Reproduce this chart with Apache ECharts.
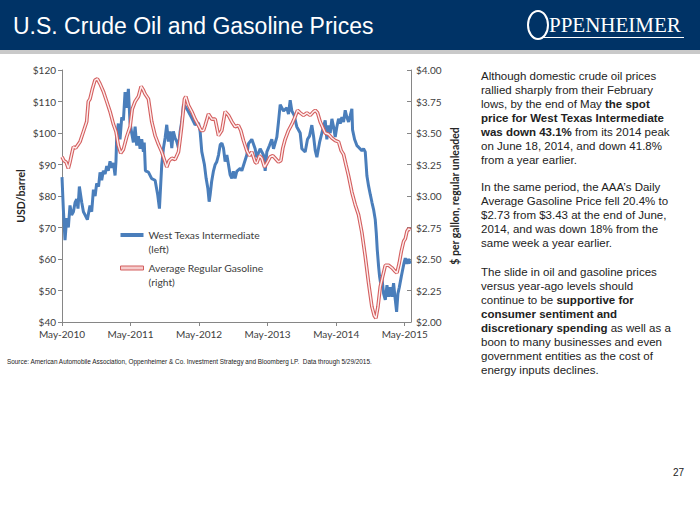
<!DOCTYPE html>
<html>
<head>
<meta charset="utf-8">
<script src="https://cdn.jsdelivr.net/npm/echarts@6/dist/echarts.min.js"></script>
<style>
html,body{margin:0;padding:0;background:#fff;}
#chart{width:700px;height:525px;}
</style>
</head>
<body>
<div id="chart"></div>
<script>
// x values are months elapsed since May-2010
const xTickLabels = ['May-2010','May-2011','May-2012','May-2013','May-2014','May-2015'];

const wtiMonths = [0.00,0.23,0.53,0.82,1.11,1.40,1.69,2.00,2.30,2.57,2.80,3.04,3.45,3.75,4.03,4.44,4.90,5.20,5.50,5.80,6.07,6.40,6.66,6.95,7.24,7.55,7.83,8.10,8.41,8.70,9.00,9.29,9.45,9.58,9.87,10.16,10.46,10.75,11.04,11.30,11.62,11.90,12.20,12.50,12.80,13.08,13.38,13.67,13.96,14.25,14.40,14.60,15.13,15.70,16.30,16.76,17.06,17.46,17.76,18.05,18.34,18.63,18.93,19.22,19.50,19.80,20.10,20.40,20.68,20.97,21.26,21.55,22.10,22.70,23.30,23.90,24.18,24.47,24.94,25.23,25.53,25.76,25.93,26.20,26.50,26.80,27.10,27.40,27.70,28.00,28.27,28.56,28.86,29.15,29.44,29.73,30.00,30.30,30.60,31.20,31.48,32.35,32.65,33.23,33.81,34.10,34.69,35.27,35.57,35.86,36.32,36.73,37.03,37.61,37.90,38.20,38.78,39.36,39.65,39.95,40.24,40.65,41.10,41.70,41.99,42.57,42.98,43.33,43.74,44.04,44.33,44.62,45.09,45.50,46.08,46.37,46.66,46.96,47.25,47.54,47.83,48.12,48.42,48.71,49.00,49.29,49.58,49.88,50.17,50.46,50.75,50.87,51.22,51.63,51.92,52.50,52.80,53.09,53.26,53.38,53.67,53.97,54.26,54.55,54.84,55.02,55.19,55.43,55.60,55.78,56.01,56.30,56.60,56.89,57.18,57.47,57.76,58.05,58.35,58.58,58.81,59.05,59.40,59.63,59.87,60.10,60.39,60.68,60.97];
const wtiPrice = [86,76,66,73,70,77,74,75,78,79,76,83,78,75,74,72.5,77,75,82,80,84,83,87.5,85,88,87,89.5,88,91,89,90.5,86.5,91,99,103,98,105,104,113,108,114,103.5,100,97,102,96,99,95,98,94,97,88,87.6,85.5,85,80.3,76,89.9,95.2,98.4,102.6,97.3,100.5,95.2,100.5,98.4,97.3,95.2,100.5,103.7,109,108.5,106.9,104.8,102.6,103.2,100.5,94.1,89.9,85.6,82.5,78.2,80.3,84.6,87.8,89.9,90.9,93,96.3,96.8,95.2,90.9,93,89.9,86.7,85.6,87.8,85.6,87.8,88.8,88,93,96.6,98,95,92.3,95,93,88,94,96,98,95,98.7,103.5,109,107,108,106,110.4,107,105.6,102,100,95,94,98,99,102.5,99,94.5,92.3,97,100,104,98,102.4,100,104.5,102,98.7,102,104.5,103,105,103.5,107.2,105,103.5,105.5,107.7,101,98,96,95.5,94.4,95,94,89.6,86.4,83.2,80.5,78,75.7,72.5,68.3,63,57.6,54.4,52.3,54,49,47,51.7,48,51,48,52.3,47,43.2,49,51,54.4,56.5,58.7,60.3,58.5,60,58.5];

const gasMonths = [0.00,0.35,0.70,1.11,1.40,1.69,1.99,2.40,2.69,3.15,3.74,4.32,4.61,4.90,5.32,5.78,6.19,6.66,7.24,7.83,8.41,9.00,9.46,9.87,10.28,10.75,11.33,11.92,12.30,12.80,13.38,13.85,14.25,14.54,15.13,15.71,16.30,16.88,17.46,18.05,18.34,18.75,19.22,19.80,20.39,20.68,20.97,21.44,21.67,22.14,22.72,23.30,23.89,24.36,24.77,25.06,25.64,26.23,26.81,27.40,27.98,28.56,29.15,29.73,30.30,30.89,31.30,31.77,32.35,32.82,33.23,33.81,34.10,34.57,34.98,35.45,35.86,36.44,36.91,37.32,37.90,38.31,38.66,39.07,39.65,40.24,40.82,41.23,41.70,42.28,42.87,43.45,44.04,44.33,44.74,45.20,45.79,46.08,46.66,47.25,47.83,48.42,48.88,49.29,49.70,50.17,50.75,51.34,51.92,52.50,53.09,53.67,54.26,54.67,54.96,55.31,55.72,56.13,56.60,57.18,57.76,58.35,58.64,59.05,59.40,59.81,60.10,60.39,60.68,61.03];
const gasPrice = [3.31,3.28,3.27,3.22,3.27,3.33,3.39,3.38,3.40,3.43,3.51,3.59,3.75,3.77,3.85,3.92,3.93,3.89,3.83,3.75,3.67,3.57,3.51,3.40,3.34,3.37,3.47,3.55,3.69,3.75,3.79,3.87,3.84,3.81,3.77,3.59,3.48,3.41,3.35,3.27,3.23,3.28,3.30,3.29,3.35,3.45,3.56,3.77,3.79,3.72,3.67,3.61,3.56,3.52,3.52,3.56,3.65,3.61,3.61,3.48,3.52,3.67,3.64,3.59,3.55,3.56,3.52,3.44,3.36,3.32,3.35,3.27,3.26,3.32,3.30,3.23,3.26,3.31,3.32,3.30,3.27,3.28,3.38,3.45,3.52,3.57,3.63,3.68,3.66,3.64,3.66,3.64,3.67,3.68,3.66,3.59,3.53,3.50,3.49,3.46,3.44,3.43,3.36,3.33,3.25,3.16,3.03,2.93,2.85,2.71,2.52,2.31,2.12,2.05,2.03,2.12,2.28,2.36,2.45,2.45,2.43,2.40,2.39,2.47,2.56,2.64,2.66,2.72,2.74,2.73];

const wtiName = 'West Texas Intermediate';
const gasName = 'Average Regular Gasoline';
const legendNotes = {'West Texas Intermediate': '(left)', 'Average Regular Gasoline': '(right)'};

const wtiData = wtiMonths.map((m, i) => [m, wtiPrice[i]]);
const gasData = gasMonths.map((m, i) => [m, gasPrice[i]]);

const axisColor = '#868686';
const labelColor = '#404040';
const labelFont = 'Lato, "Open Sans", sans-serif';

const chart = echarts.init(document.getElementById('chart'), null, {renderer: 'svg'});

const bodyStyle = {fontFamily: '"Liberation Sans", Arial, sans-serif', fontSize: 11.5, fill: '#222', lineHeight: 14};
const richBold = {b: {fontFamily: '"Liberation Sans", Arial, sans-serif', fontSize: 11.5, fontWeight: 'bold', fill: '#222', lineHeight: 14}};

const p1 = ['Although domestic crude oil prices','rallied sharply from their February','lows, by the end of May {b|the spot}','{b|price for West Texas Intermediate}','{b|was down 43.1%} from its 2014 peak','on June 18, 2014, and down 41.8%','from a year earlier.'].join('\n');
const p2 = ['In the same period, the AAA\u2019s Daily','Average Gasoline Price fell 20.4% to','$2.73 from $3.43 at the end of June,','2014, and was down 18% from the','same week a year earlier.'].join('\n');
const p3 = ['The slide in oil and gasoline prices','versus year-ago levels should','continue to be {b|supportive for}','{b|consumer sentiment and}','{b|discretionary spending} as well as a','boon to many businesses and even','government entities as the cost of','energy inputs declines.'].join('\n');

function para(text, top) {
  return {type: 'text', left: 481, top: top, z: 10,
    style: Object.assign({text: text, rich: richBold}, bodyStyle)};
}

chart.setOption({
  animation: false,
  backgroundColor: '#ffffff',
  grid: {left: 62, right: 289, top: 70, bottom: 203, containLabel: false},
  legend: {
    orient: 'vertical', left: 115, top: 209, itemGap: -9,
    itemWidth: 23, itemHeight: 4,
    data: [
      {name: wtiName, icon: 'rect', itemStyle: {color: '#4a7ebb', borderWidth: 0}},
      {name: gasName, icon: 'rect', itemStyle: {color: '#f6cccc', borderColor: '#d35f5f', borderWidth: 1}}
    ],
    formatter: name => '\n' + name + '\n' + legendNotes[name],
    textStyle: {fontFamily: labelFont, fontSize: 10.3, color: labelColor, lineHeight: 14},
    selectedMode: false
  },
  xAxis: {
    type: 'value', min: 0, max: 61.1, interval: 12,
    axisLine: {show: true, lineStyle: {color: axisColor, width: 1}},
    axisTick: {show: true, length: 4, lineStyle: {color: axisColor}},
    splitLine: {show: false},
    axisLabel: {
      color: labelColor, fontFamily: labelFont, fontSize: 10, margin: 7, showMaxLabel: false,
      formatter: v => (Math.abs(v % 12) < 1e-6 && v / 12 < xTickLabels.length) ? xTickLabels[Math.round(v / 12)] : ''
    }
  },
  yAxis: [
    {
      type: 'value', min: 40, max: 120, interval: 10, position: 'left',
      name: 'USD/barrel', nameLocation: 'middle', nameGap: 36, nameRotate: 90,
      nameTextStyle: {fontFamily: labelFont, fontSize: 10.5, fontWeight: 'bold', color: '#262626'},
      axisLine: {show: true, lineStyle: {color: axisColor, width: 1}},
      axisTick: {show: true, length: 4, lineStyle: {color: axisColor}},
      splitLine: {show: false},
      axisLabel: {color: labelColor, fontFamily: labelFont, fontSize: 10, margin: 6, formatter: v => '$' + v}
    },
    {
      type: 'value', min: 2, max: 4, interval: 0.25, position: 'right',
      name: '$ per gallon, regular unleaded', nameLocation: 'middle', nameGap: 38, nameRotate: 90,
      nameTextStyle: {fontFamily: labelFont, fontSize: 10.5, fontWeight: 'bold', color: '#262626'},
      axisLine: {show: true, lineStyle: {color: axisColor, width: 1}},
      axisTick: {show: true, inside: true, length: 4, lineStyle: {color: axisColor}},
      splitLine: {show: false},
      axisLabel: {color: labelColor, fontFamily: labelFont, fontSize: 10, margin: 5, formatter: v => '$' + v.toFixed(2)}
    }
  ],
  series: [
    {
      name: wtiName, type: 'line', yAxisIndex: 0, data: wtiData, showSymbol: false, symbol: 'none',
      lineStyle: {color: '#4a7ebb', width: 3}, itemStyle: {color: '#4a7ebb'}, z: 2
    },
    {
      name: gasName, type: 'line', yAxisIndex: 1, data: gasData, showSymbol: false, symbol: 'none',
      lineStyle: {color: '#d45f5f', width: 3.6}, itemStyle: {color: '#d45f5f'}, z: 3
    },
    {
      name: 'gas-inner', type: 'line', yAxisIndex: 1, data: gasData, showSymbol: false, symbol: 'none',
      lineStyle: {color: '#fdeeee', width: 1.4}, itemStyle: {color: '#fdeeee'}, z: 4, silent: true
    }
  ],
  graphic: [
    {type: 'rect', left: 0, top: 0, z: 1, shape: {width: 700, height: 50}, style: {fill: '#003366'}},
    {type: 'rect', left: 0, top: 50, z: 1, shape: {width: 700, height: 4}, style: {fill: '#c9c9c9'}},
    {type: 'text', left: 13, top: 14, z: 5, style: {text: 'U.S. Crude Oil and Gasoline Prices', fill: '#ffffff', fontFamily: '"Liberation Sans", Arial, sans-serif', fontSize: 23}},
    {type: 'ellipse', z: 5, shape: {cx: 538, cy: 25, rx: 10, ry: 14}, style: {fill: 'none', stroke: '#ffffff', lineWidth: 2}},
    {type: 'text', left: 549, top: 14, z: 5, style: {text: 'PPENHEIMER', fill: '#ffffff', fontFamily: '"Liberation Serif", "DejaVu Serif", serif', fontSize: 21}},
    {type: 'rect', left: 543, top: 37, z: 5, shape: {width: 141, height: 1}, style: {fill: '#ffffff'}},
    para(p1, 69), para(p2, 180), para(p3, 265),
    {type: 'text', left: 7, top: 357, scaleX: 0.8, z: 5, style: {text: 'Source: American Automobile Association, Oppenheimer & Co. Investment Strategy and Bloomberg LP.  Data through 5/29/2015.', fill: '#222', fontFamily: '"Liberation Sans", Arial, sans-serif', fontSize: 8}},
    {type: 'text', left: 673, top: 467, z: 5, style: {text: '27', fill: '#222', fontFamily: '"Liberation Sans", Arial, sans-serif', fontSize: 10}}
  ]
});
</script>
</body>
</html>
